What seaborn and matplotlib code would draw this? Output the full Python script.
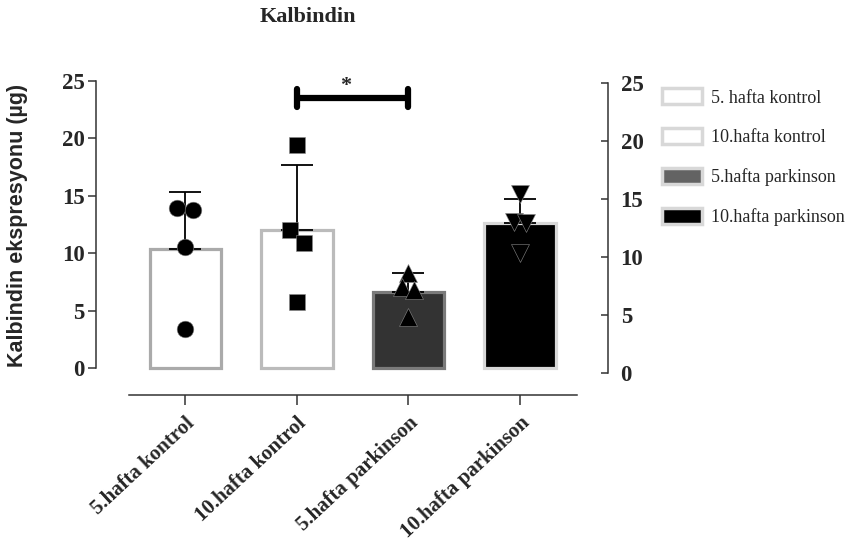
import matplotlib
matplotlib.use("Agg")
import matplotlib.pyplot as plt
from matplotlib.patches import Patch
import seaborn as sns
import pandas as pd

gruplar = ["5.hafta kontrol", "10.hafta kontrol", "5.hafta parkinson", "10.hafta parkinson"]
legend_etiket = ["5. hafta kontrol", "10.hafta kontrol", "5.hafta parkinson", "10.hafta parkinson"]
hafta5_kontrol = [13.9, 13.8, 10.5, 3.4]
hafta10_kontrol = [19.4, 12.0, 10.9, 5.75]
hafta5_parkinson = [8.3, 7.05, 6.8, 4.45]
hafta10_parkinson = [15.2, 12.7, 12.6, 10.0]
y_ticks = [0, 5, 10, 15, 20, 25]

# styling
bar_fill = ["white", "white", "#333333", "black"]
bar_edge = ["#aaaaaa", "#bbbbbb", "#7a7a7a", "#d8d8d8"]
legend_fill = ["white", "white", "#636363", "black"]
markers = ["o", "s", "^", "v"]
marker_size = [12, 11.5, 12.5, 12.5]
jitter = [[-0.07, 0.07, 0.0, 0.0], [0.0, -0.06, 0.06, 0.0],
          [0.0, -0.06, 0.05, 0.0], [0.0, -0.05, 0.05, 0.0]]

df = pd.DataFrame({
    "grup": [g for g, v in zip(gruplar, [hafta5_kontrol, hafta10_kontrol, hafta5_parkinson, hafta10_parkinson]) for _ in v],
    "deger": hafta5_kontrol + hafta10_kontrol + hafta5_parkinson + hafta10_parkinson,
})
ozet = df.groupby("grup", sort=False)["deger"].agg(["mean", "std"]).reindex(gruplar)

sns.set_style("ticks")
plt.rcParams["font.family"] = ["Liberation Serif", "DejaVu Serif"]

fig = plt.figure(figsize=(8.56, 5.55), dpi=100)
W, H = 856, 555
ax = fig.add_axes([96 / W, 1 - 395 / H, 491 / W, 314 / H])

sns.barplot(data=df, x="grup", y="deger", order=gruplar, errorbar=None,
            width=0.64, ax=ax, zorder=1)
for p, fc, ec in zip(ax.patches, bar_fill, bar_edge):
    p.set_facecolor(fc)
    p.set_edgecolor(ec)
    p.set_linewidth(2.3)

# upper SD error bars only
for i, g in enumerate(gruplar):
    m, s = ozet.loc[g, "mean"], ozet.loc[g, "std"]
    ax.errorbar(i, m, yerr=[[0], [s]], color="black", lw=1.3, capsize=11.5,
                capthick=1.3, zorder=2)

# individual points
for i, g in enumerate(gruplar):
    vals = df.loc[df["grup"] == g, "deger"].tolist()
    xs = [i + j for j in jitter[i]]
    ax.plot(xs, vals, linestyle="none", marker=markers[i], markersize=marker_size[i],
            color="black", markeredgecolor="#8a8a8a", markeredgewidth=0.4, zorder=3)

# significance bracket
ax.plot([1, 2], [23.5, 23.5], color="black", lw=4.5, solid_capstyle="butt", clip_on=False)
for xx in [1, 2]:
    ax.plot([xx, xx], [22.7, 24.3], color="black", lw=4.5, solid_capstyle="round", clip_on=False)
ax.text(1.44, 24.55, "*", ha="center", va="center", fontsize=16, fontweight="bold")

ax.set_xlim(-0.8, 3.6)
ax.set_ylim(-2.35, 25)
ax.set_yticks(y_ticks)
ax.spines["left"].set_bounds(0, 25)
ax.spines["bottom"].set_bounds(-0.5, 3.51)
ax.spines["top"].set_visible(False)
ax.spines["right"].set_visible(False)
for sp in ["left", "bottom"]:
    ax.spines[sp].set_color("#333333")
    ax.spines[sp].set_linewidth(1.1)
ax.tick_params(axis="y", length=6, width=1.1, color="#333333", pad=2, labelsize=16.5)
ax.tick_params(axis="x", length=7, width=1.1, color="#333333", pad=6, labelsize=15)
for t in ax.get_yticklabels():
    t.set_fontweight("bold")
ax.set_xticks(range(len(gruplar)))
ax.set_xticklabels(gruplar, rotation=43, ha="right", rotation_mode="anchor", fontweight="bold")
ax.set_xlabel("")
ax.set_ylabel("")

fig.text(18 / W, 1 - 225 / H, "Kalbindin ekspresyonu (µg)", rotation=90, ha="center", va="center",
         fontsize=15.5, fontweight="bold", family=["Liberation Sans", "DejaVu Sans"])
fig.text(308 / W, 1 - 17 / H, "Kalbindin", ha="center", va="center", fontsize=16, fontweight="bold")

# right-hand duplicate axis
ax2 = fig.add_axes([608 / W, 1 - 373 / H, 0.0001, 290 / H])
ax2.set_ylim(0, 25)
ax2.set_yticks(y_ticks)
ax2.set_xticks([])
for sp in ["top", "right", "bottom"]:
    ax2.spines[sp].set_visible(False)
ax2.spines["left"].set_color("#333333")
ax2.spines["left"].set_linewidth(1.1)
ax2.patch.set_visible(False)
ax2.tick_params(axis="y", left=True, right=False, labelleft=False, labelright=True,
                direction="out", length=5, width=1.1, color="#333333", pad=4, labelsize=16.5)
for t in ax2.get_yticklabels():
    t.set_fontweight("bold")

handles = [Patch(facecolor=fc, edgecolor="#d8d8d8", linewidth=2.5) for fc in legend_fill]
fig.legend(handles, legend_etiket, loc="upper left", bbox_to_anchor=(646 / W, 1 - 72 / H),
           frameon=False, fontsize=13, handlelength=2.2, handleheight=1.0,
           labelspacing=1.2, handletextpad=0.5)

fig.savefig("out.png", dpi=100)
